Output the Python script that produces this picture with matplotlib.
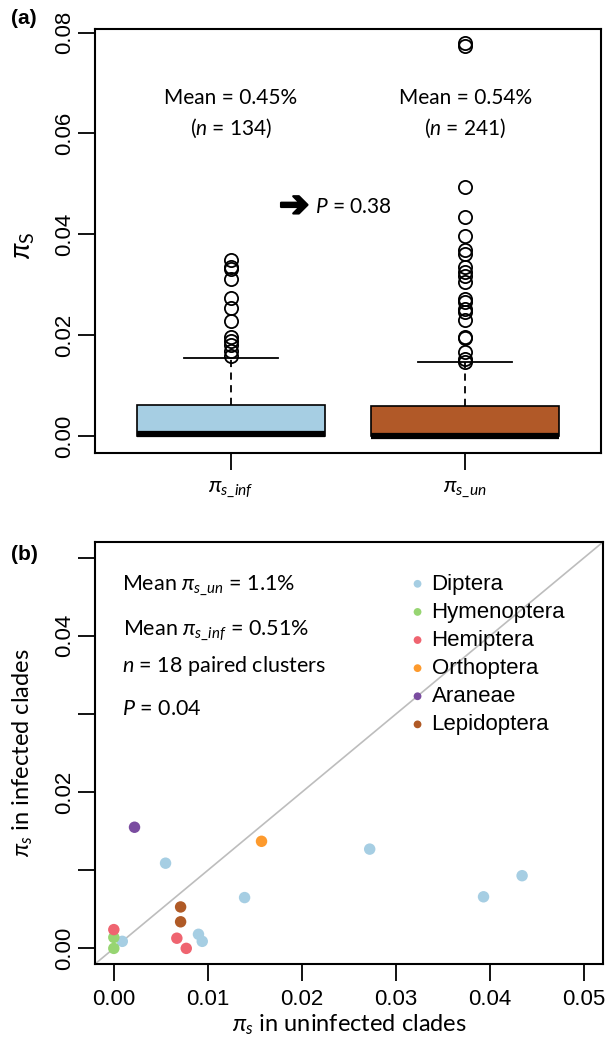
import matplotlib
matplotlib.use('Agg')
import matplotlib.pyplot as plt
import matplotlib.patheffects as pe

plt.rcParams['font.family'] = ['Liberation Sans', 'DejaVu Sans']
plt.rcParams['mathtext.fontset'] = 'custom'
plt.rcParams['mathtext.rm'] = 'Lato'
plt.rcParams['mathtext.it'] = 'Lato:italic'
plt.rcParams['mathtext.bf'] = 'Lato:bold'

# ---- panel (a): pi_s in infected vs uninfected clades (box summaries)
box_labels = [r'$\pi_{s\_inf}$', r'$\pi_{s\_un}$']
box_colors = ['#a6cee3', '#b15928']
q1 = [0.0, 0.0]
med = [0.0005, 0.0]
q3 = [0.0063, 0.0060]
whis_hi = [0.0156, 0.0147]
fliers_inf = [0.0349, 0.0335, 0.0332, 0.0311, 0.0275, 0.0254, 0.0229,
              0.0197, 0.0189, 0.0180, 0.0170, 0.0159]
fliers_un = [0.0780, 0.0773, 0.0493, 0.0435, 0.0397, 0.0370, 0.0362,
             0.0336, 0.0325, 0.0317, 0.0306, 0.0273, 0.0267, 0.0253,
             0.0247, 0.0230, 0.0197, 0.0194, 0.0167, 0.0154, 0.0147]
means_a = ['0.45%', '0.54%']
n_a = [134, 241]
p_a = '0.38'

# ---- panel (b): paired clusters
orders = ['Diptera', 'Hymenoptera', 'Hemiptera', 'Orthoptera', 'Araneae', 'Lepidoptera']
order_colors = ['#a6cee3', '#97d572', '#ef6470', '#fd9a2d', '#7a4ca0', '#b05a26']
pi_un = [0.0055, 0.0272, 0.0434, 0.0393, 0.0139, 0.0090, 0.0094, 0.0009,
         0.0000, 0.0000,
         0.0000, 0.0067, 0.0077,
         0.0157,
         0.0022,
         0.0071, 0.0071]
pi_inf = [0.0109, 0.0127, 0.0093, 0.0066, 0.0065, 0.0018, 0.0009, 0.0009,
          0.0014, 0.0000,
          0.0024, 0.0013, 0.0000,
          0.0137,
          0.0155,
          0.0053, 0.0034]
point_order = (['Diptera'] * 8 + ['Hymenoptera'] * 2 + ['Hemiptera'] * 3 +
               ['Orthoptera'] + ['Araneae'] + ['Lepidoptera'] * 2)

fig = plt.figure(figsize=(6.06, 10.43), dpi=100)
W, H = 606, 1043

def frac(x0, y0, x1, y1):
    return [x0 / W, 1 - y1 / H, (x1 - x0) / W, (y1 - y0) / H]

# ---------------- (a)
ax = fig.add_axes(frac(95, 29, 601, 453))
stats = []
for i in range(2):
    stats.append(dict(med=med[i], q1=q1[i], q3=q3[i], whislo=q1[i],
                      whishi=whis_hi[i],
                      fliers=[fliers_inf, fliers_un][i]))
bp = ax.bxp(stats, positions=[1, 2], widths=0.8, capwidths=0.4,
            patch_artist=True,
            boxprops=dict(edgecolor='black', linewidth=1.2),
            medianprops=dict(color='black', linewidth=4.5, solid_capstyle='butt'),
            whiskerprops=dict(color='black', linewidth=1.3, linestyle=(0, (4, 3))),
            capprops=dict(color='black', linewidth=1.3),
            flierprops=dict(marker='o', markerfacecolor='none',
                            markeredgecolor='black', markersize=9.5,
                            markeredgewidth=1.3))
for patch, c in zip(bp['boxes'], box_colors):
    patch.set_facecolor(c)
ax.set_xlim(0.42, 2.58)
ax.set_ylim(-0.0033, 0.0807)
ax.set_yticks([0.0, 0.02, 0.04, 0.06, 0.08])
ax.set_yticklabels(['0.00', '0.02', '0.04', '0.06', '0.08'], rotation=90, va='center')
ax.set_xticks([1, 2])
ax.set_xticklabels(box_labels, fontsize=20)
ax.tick_params(direction='out', length=12, width=1.3, labelsize=16, pad=2)
ax.tick_params(axis='x', pad=6)
for s in ax.spines.values():
    s.set_linewidth(1.5)
ax.set_ylabel(r'$\pi_{\mathrm{S}}$', fontsize=20)
ax.yaxis.set_label_coords(-0.115, 0.49)

for i in range(2):
    ax.text(i + 1, 0.0671, 'Mean = ' + means_a[i], ha='center', va='center',
            fontsize=15, family='Lato')
    ax.text(i + 1, 0.0611, '($n$ = %d)' % n_a[i], ha='center', va='center',
            fontsize=15, family='Lato')
ax.text(1.27, 0.0456, '\u2794', ha='center', va='center', fontsize=26,
        family='DejaVu Sans', fontweight='bold',
        path_effects=[pe.withStroke(linewidth=1.6, foreground='black')])
ax.text(1.36, 0.0454, '$P$ = ' + p_a, ha='left', va='center', fontsize=15,
        family='Lato')

fig.text(24 / W, 1 - 19 / H, '(a)', fontsize=15, fontweight='bold',
         ha='center', va='center')

# ---------------- (b)
bx = fig.add_axes(frac(95, 542, 603, 964))
bx.plot([-0.002, 0.052], [-0.002, 0.052], color='#bdbdbd', linewidth=1.2, zorder=1)
for name, c in zip(orders, order_colors):
    xs = [x for x, o in zip(pi_un, point_order) if o == name]
    ys = [y for y, o in zip(pi_inf, point_order) if o == name]
    bx.scatter(xs, ys, s=68, color=c, edgecolors='none', label=name, zorder=2)
bx.set_xlim(-0.002, 0.052)
bx.set_ylim(-0.002, 0.052)
bx.set_xticks([0.0, 0.01, 0.02, 0.03, 0.04, 0.05])
bx.set_xticklabels(['0.00', '0.01', '0.02', '0.03', '0.04', '0.05'])
bx.set_yticks([0.0, 0.01, 0.02, 0.03, 0.04, 0.05])
bx.set_yticklabels(['0.00', '', '0.02', '', '0.04', ''], rotation=90, va='center')
bx.tick_params(direction='out', length=12, width=1.3, labelsize=16, pad=2)
bx.tick_params(axis='x', pad=6)
for s in bx.spines.values():
    s.set_linewidth(1.5)
bx.set_xlabel(r'$\pi_s$ in uninfected clades', fontsize=17, family='Lato')
bx.xaxis.set_label_coords(0.5, -0.115)
bx.set_ylabel(r'$\pi_s$ in infected clades', fontsize=17, family='Lato')
bx.yaxis.set_label_coords(-0.118, 0.5)

bx.text(0.0009, 0.0465, r'Mean $\pi_{s\_un}$ = 1.1%', ha='left', va='center',
        fontsize=15.5, family='Lato')
bx.text(0.0010, 0.0407, r'Mean $\pi_{s\_inf}$ = 0.51%', ha='left', va='center',
        fontsize=15.5, family='Lato')
bx.text(0.0009, 0.0361, '$n$ = 18 paired clusters', ha='left', va='center',
        fontsize=15.5, family='Lato')
bx.text(0.0009, 0.0306, '$P$ = 0.04', ha='left', va='center',
        fontsize=15.5, family='Lato')

bx.legend(loc='upper left', bbox_to_anchor=(0.624, 0.925), frameon=False,
          fontsize=16, markerscale=0.68, handlelength=0.5, handletextpad=0.38,
          labelspacing=0.32, borderpad=0, borderaxespad=0)

fig.text(24 / W, 1 - 554 / H, '(b)', fontsize=15, fontweight='bold',
         ha='center', va='center')

fig.savefig('out.png', dpi=100)
